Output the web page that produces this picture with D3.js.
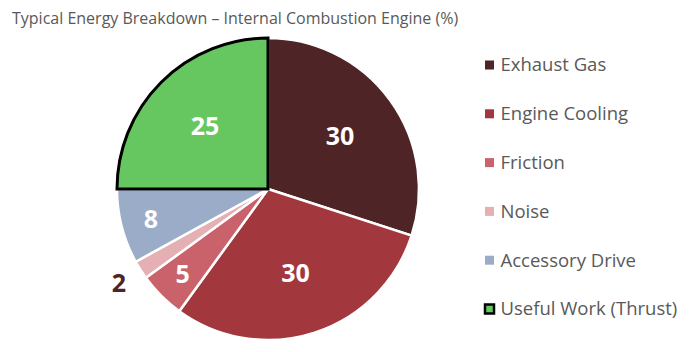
<!DOCTYPE html>
<html>
<head>
<meta charset="utf-8">
<script src="https://cdn.jsdelivr.net/npm/d3@7"></script>
<style>
    body { margin: 0; background: #fff; }
    text { font-family: "Open Sans", sans-serif; }
</style>
</head>
<body>
<div id="chart"></div>
<script>
// data
const categories = ["Exhaust Gas", "Engine Cooling", "Friction", "Noise", "Accessory Drive", "Useful Work (Thrust)"];
const values = [30, 30, 5, 2, 8, 25];
const colors = ["#4e2426", "#a3373e", "#c9626a", "#e5b0b3", "#9bacc9", "#66c65f"];
const titleText = "Typical Energy Breakdown \u2013 Internal Combustion Engine (%)";

const width = 695, height = 352;
const cx = 268, cy = 189, radius = 151;

let svg = d3.select("#chart").append("svg")
    .attr("width", width)
    .attr("height", height);

// title
svg.append("text")
    .attr("x", 12)
    .attr("y", 24)
    .attr("font-size", 16)
    .attr("fill", "#595959")
    .text(titleText);

let data = categories.map((c, i) => ({name: c, value: values[i], color: colors[i], highlight: i === 5}));

let pie = d3.pie().sort(null).value(d => d.value);
let arc = d3.arc().innerRadius(0).outerRadius(radius);
let arcs = pie(data);

let g = svg.append("g")
    .attr("transform", "translate(" + cx + "," + cy + ")");

// normal slices first, highlighted slice on top so its border shows
g.selectAll(".slice")
    .data(arcs.filter(d => !d.data.highlight).concat(arcs.filter(d => d.data.highlight)))
    .enter().append("path")
    .attr("class", "slice")
    .attr("d", arc)
    .attr("fill", d => d.data.color)
    .attr("stroke", d => d.data.highlight ? "#000" : "#fff")
    .attr("stroke-width", d => d.data.highlight ? 3 : 2.5)
    .attr("stroke-linejoin", "miter");

// labels: big slices in the middle, small ones near the edge, tiny ones outside
function labelRadius(v) {
    if (v < 4) return radius * 1.17;
    if (v < 10) return radius * 0.8;
    return radius * 0.59;
}

g.selectAll(".label")
    .data(arcs)
    .enter().append("text")
    .attr("class", "label")
    .attr("transform", d => {
        let a = (d.startAngle + d.endAngle) / 2;
        let r = labelRadius(d.data.value);
        return "translate(" + (Math.sin(a) * r) + "," + (-Math.cos(a) * r) + ")";
    })
    .attr("text-anchor", "middle")
    .attr("dy", "0.35em")
    .attr("font-size", 25)
    .attr("font-weight", "bold")
    .attr("fill", d => d.data.value < 4 ? "#4e2426" : "#fff")
    .text(d => d.data.value);

// legend
let legendY = d3.scalePoint()
    .domain(categories)
    .range([65, 309]);

let legend = svg.selectAll(".legend")
    .data(data)
    .enter().append("g")
    .attr("class", "legend")
    .attr("transform", d => "translate(489.5," + legendY(d.name) + ")");

legend.append("rect")
    .attr("x", -4.5)
    .attr("y", -4.5)
    .attr("width", 9)
    .attr("height", 9)
    .attr("fill", d => d.color)
    .attr("stroke", d => d.highlight ? "#000" : "none")
    .attr("stroke-width", 2.5);

legend.append("text")
    .attr("x", 11)
    .attr("dy", "0.35em")
    .attr("font-size", 18.5)
    .attr("fill", "#595959")
    .text(d => d.name);
</script>
</body>
</html>
